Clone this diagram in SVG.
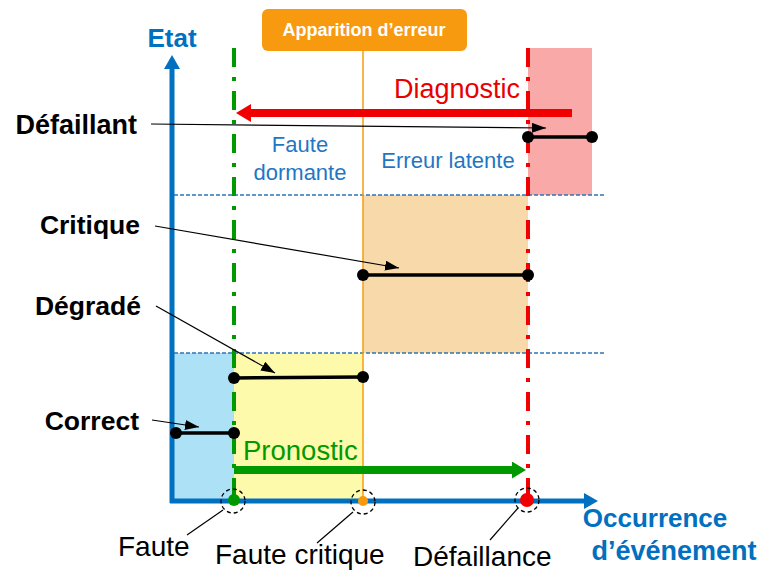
<svg xmlns="http://www.w3.org/2000/svg" width="759" height="571" viewBox="0 0 759 571">
<style>
text{font-family:"Liberation Sans",Arial,sans-serif}
.lbl{font-size:26.5px;font-weight:bold;fill:#000;text-anchor:end}
.ax{font-size:26px;font-weight:bold;fill:#0070C0}
.ev{font-size:28px;fill:#000}
.zone{font-size:22px;fill:#1F77C4;text-anchor:middle}
.lead{stroke:#000;stroke-width:1.2;fill:none}
.seg{stroke:#000;stroke-width:3.5}
.dot{fill:#000}
.thr{stroke:#2E75B6;stroke-width:1.3;stroke-dasharray:4 2}
.ring{fill:none;stroke:#000;stroke-width:1.3;stroke-dasharray:4 3}
.dd{stroke-width:4;stroke-dasharray:19 10 4 10;fill:none}
</style>
<defs>
<marker id="ah" markerUnits="userSpaceOnUse" markerWidth="14" markerHeight="10" refX="14" refY="5" orient="auto"><path d="M0,0 L14,5 L0,10 Z" fill="#000"/></marker>
<marker id="axh" markerUnits="userSpaceOnUse" markerWidth="14" markerHeight="16" refX="0" refY="8" orient="auto"><path d="M0,0 L14,8 L0,16 Z" fill="#0070C0"/></marker>
<marker id="redh" markerUnits="userSpaceOnUse" markerWidth="15" markerHeight="18" refX="0" refY="9" orient="auto"><path d="M0,0 L15,9 L0,18 Z" fill="#F00000"/></marker>
<marker id="grh" markerUnits="userSpaceOnUse" markerWidth="14" markerHeight="17" refX="0" refY="8.5" orient="auto"><path d="M0,0 L14,8.5 L0,17 Z" fill="#009A00"/></marker>
</defs>

<g id="zones">
<rect id="zone-correct" x="172" y="353" width="62" height="148" fill="#ADE1F6"/>
<rect id="zone-degrade" x="234" y="353" width="129" height="148" fill="#FEFAAB"/>
<rect id="zone-critique" x="363" y="195" width="165" height="158" fill="#F8D9AA"/>
<rect id="zone-defaillant" x="528" y="48" width="64" height="147" fill="#FAA9A9"/>
</g>

<g id="thresholds">
<line class="thr" x1="174" y1="195" x2="605" y2="195"/>
<line class="thr" x1="174" y1="353" x2="605" y2="353"/>
</g>

<g id="time-lines">
<line class="dd" x1="234" y1="48" x2="234" y2="501" stroke="#009A00"/>
<line x1="363" y1="51" x2="363" y2="501" stroke="#F59D0E" stroke-width="1.5"/>
<line class="dd" x1="528" y1="48" x2="528" y2="501" stroke="#F00000"/>
</g>

<g id="axes">
<line x1="172" y1="503" x2="172" y2="69" stroke="#0070C0" stroke-width="5" marker-end="url(#axh)"/>
<line x1="170" y1="501" x2="584" y2="501" stroke="#0070C0" stroke-width="5" marker-end="url(#axh)"/>
<text class="ax" x="172" y="47" text-anchor="middle">Etat</text>
<text class="ax" x="655" y="527" text-anchor="middle">Occurrence</text>
<text class="ax" x="674" y="560" text-anchor="middle" style="font-size:27px">d’événement</text>
</g>

<g id="apparition-erreur">
<rect x="262" y="9" width="205" height="42" rx="6" fill="#F79A10"/>
<text x="364" y="36" text-anchor="middle" font-size="18" font-weight="bold" fill="#fff">Apparition d’erreur</text>
</g>

<g id="zone-labels">
<text class="zone" x="300" y="152">Faute</text>
<text class="zone" x="300" y="180">dormante</text>
<text class="zone" x="448" y="168">Erreur latente</text>
</g>

<g id="state-defaillant">
<text class="lbl" x="137" y="134" style="font-size:27px">Défaillant</text>
<line class="seg" x1="528" y1="137" x2="592" y2="137"/>
<circle class="dot" cx="528" cy="137" r="6"/><circle class="dot" cx="592" cy="137" r="6"/>
</g>
<g id="state-critique">
<text class="lbl" x="140" y="234">Critique</text>
<line class="seg" x1="363" y1="275" x2="528" y2="275"/>
<circle class="dot" cx="363" cy="275" r="6"/><circle class="dot" cx="528" cy="275" r="6"/>
</g>
<g id="state-degrade">
<text class="lbl" x="141" y="315">Dégradé</text>
<line class="seg" x1="234" y1="378" x2="363" y2="377"/>
<circle class="dot" cx="234" cy="378" r="6"/><circle class="dot" cx="363" cy="377" r="6"/>
</g>
<g id="state-correct">
<text class="lbl" x="139" y="430">Correct</text>
<line class="seg" x1="176" y1="433" x2="234" y2="433"/>
<circle class="dot" cx="176" cy="433" r="6"/><circle class="dot" cx="234" cy="433" r="6"/>
</g>

<g id="diagnostic">
<line x1="572" y1="113" x2="251" y2="113" stroke="#F00000" stroke-width="8" marker-end="url(#redh)"/>
<text x="520" y="98" text-anchor="end" font-size="27" fill="#E80000">Diagnostic</text>
</g>
<g id="pronostic">
<line x1="234" y1="470" x2="512" y2="470" stroke="#009A00" stroke-width="8" marker-end="url(#grh)"/>
<text x="243" y="460" font-size="27.5" fill="#009A00">Pronostic</text>
</g>

<g id="event-faute">
<circle class="ring" cx="233" cy="501" r="12"/>
<circle cx="234" cy="500" r="6" fill="#009A00"/>
<text class="ev" x="118" y="556">Faute</text>
</g>
<g id="event-faute-critique">
<circle class="ring" cx="363" cy="502" r="12"/>
<circle cx="363" cy="501" r="5" fill="#F79A10"/>
<text class="ev" x="215" y="564">Faute critique</text>
</g>
<g id="event-defaillance">
<circle class="ring" cx="527" cy="500" r="12"/>
<circle cx="527" cy="500" r="7" fill="#F00000"/>
<text class="ev" x="413" y="566">Défaillance</text>
</g>

<g id="connectors">
<line class="lead" x1="151" y1="124" x2="546" y2="128" marker-end="url(#ah)"/>
<line class="lead" x1="155" y1="226" x2="399" y2="268" marker-end="url(#ah)"/>
<line class="lead" x1="156" y1="306" x2="275" y2="373" marker-end="url(#ah)"/>
<line class="lead" x1="152" y1="420" x2="199" y2="427" marker-end="url(#ah)"/>
<line class="lead" x1="223" y1="510" x2="187" y2="535"/>
<line class="lead" x1="353" y1="512" x2="317" y2="543"/>
<line class="lead" x1="518" y1="508" x2="490" y2="540"/>
</g>
</svg>
